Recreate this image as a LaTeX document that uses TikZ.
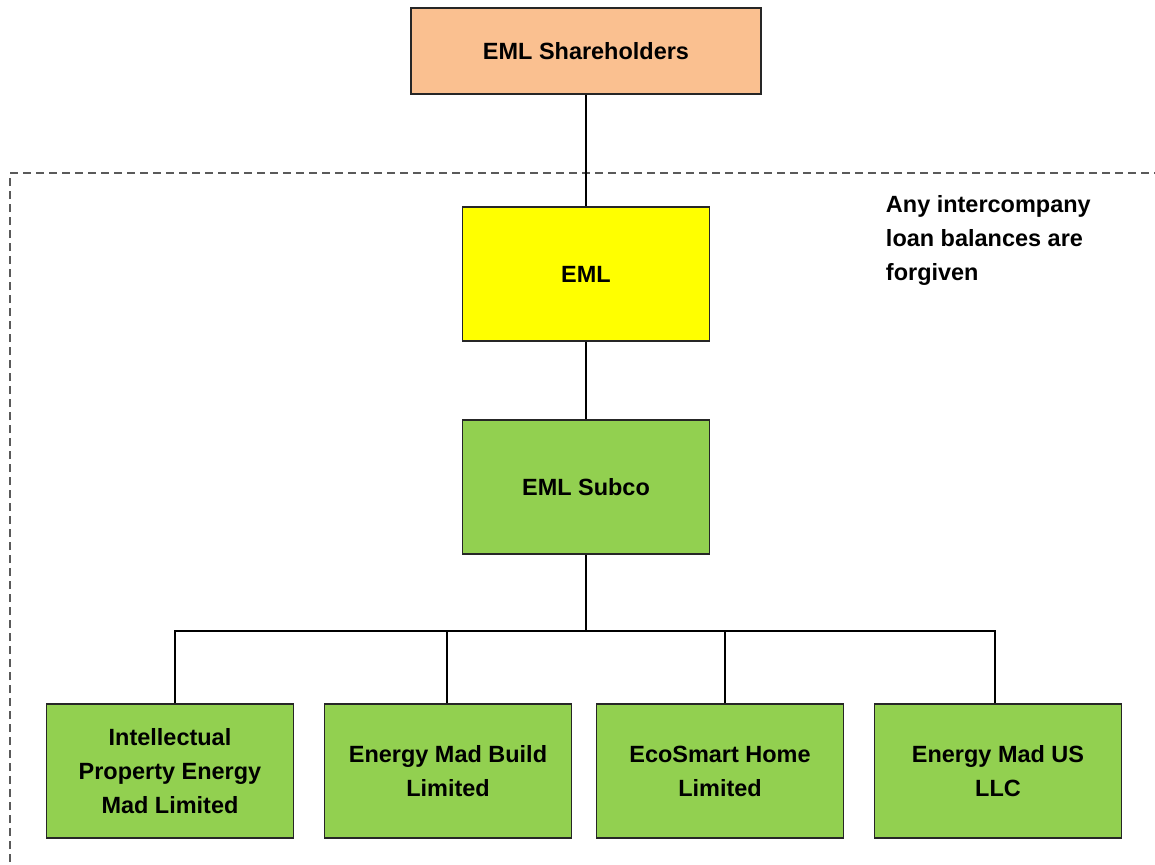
\documentclass[tikz,border=0pt]{standalone}
\usepackage{fontspec}
\setmainfont{Liberation Sans}
\usetikzlibrary{positioning,calc}
\definecolor{peach}{RGB}{250,192,144}
\definecolor{leaf}{RGB}{146,208,80}
\definecolor{lemon}{RGB}{255,255,0}
\definecolor{edgegray}{RGB}{90,90,90}
\begin{document}
\begin{tikzpicture}[x=0.75pt, y=-0.75pt, thick,
    font=\fontsize{17.6}{25.5}\selectfont\bfseries,
    box/.style={rectangle, draw=black!85, line width=0.9pt, align=center,
                minimum width=185pt, minimum height=100.5pt, inner sep=4pt}]
   \useasboundingbox (0,0) rectangle (1155,864);
   % group boundary
   \draw[edgegray, line width=0.9pt, dash pattern=on 6pt off 3.75pt] (10,1200) -- (10,173) -- (1400,173);
   \begin{scope}[every node/.style={box, fill=leaf}]
    \node (top) [fill=peach, minimum width=262.5pt, minimum height=64.5pt] at (586,51) {EML Shareholders};
    \node (eml) [fill=lemon] at (586,274) {EML};
    \node (sub) at (586,487) {EML Subco};
    \node (c1) at (170,771) {Intellectual\\Property Energy\\Mad Limited};
    \node (c2) at (448,771) {Energy Mad Build\\Limited};
    \node (c3) at (720,771) {EcoSmart Home\\Limited};
    \node (c4) at (998,771) {Energy Mad US\\LLC};
   \end{scope}
   \node (note) [anchor=west, align=left] at (881,240) {Any intercompany\\loan balances are\\forgiven};
   \coordinate (bus) at (586,631);
   \begin{scope}[line width=1.1pt]
    \draw (top) -- (eml);
    \draw (eml) -- (sub);
    \draw (sub) -- (bus);
    \foreach \c/\dx in {c1/3.75pt,c2/-0.75pt,c3/3.75pt,c4/-2.25pt}
      \draw ([xshift=\dx]\c.north) |- (bus);
   \end{scope}
\end{tikzpicture}
\end{document}
